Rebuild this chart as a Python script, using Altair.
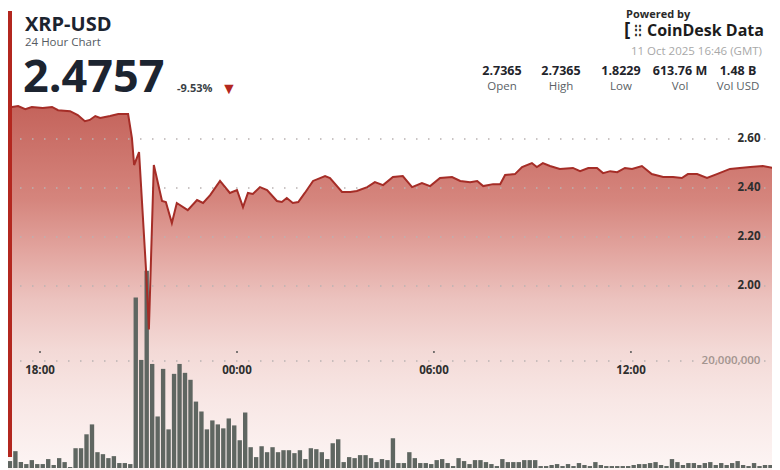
import altair as alt
import pandas as pd

# ---------------- data ----------------
# price line: minutes relative to 18:00 (10 Oct), price in USD
price_min = [-71, -51, -40, -27, -15, 5, 22, 33, 55, 69, 82, 91, 101, 110, 128, 143, 161,
             168, 172, 181, 194, 199, 208, 223, 230, 241, 250, 270, 287, 298, 311, 329,
             347, 360, 371, 380, 389, 402, 415, 433, 442, 451, 462, 472, 484, 499, 521,
             530, 552, 567, 579, 598, 612, 627, 645, 663, 680, 698, 713, 731, 753, 768,
             786, 799, 810, 828, 841, 850, 868, 881, 899, 908, 919, 932, 950, 974, 987,
             1002, 1018, 1029, 1042, 1055, 1069, 1082, 1100, 1118, 1139, 1157, 1173,
             1184, 1201, 1219, 1237, 1261, 1279, 1298, 1321, 1340, 1352, 1366]
price_val = [2.7365, 2.731, 2.735, 2.722, 2.731, 2.727, 2.731, 2.718, 2.714, 2.698, 2.673,
             2.678, 2.694, 2.686, 2.694, 2.702, 2.702, 2.604, 2.494, 2.547, 2.057, 1.8229,
             2.494, 2.347, 2.343, 2.257, 2.339, 2.310, 2.351, 2.339, 2.371, 2.429, 2.380,
             2.392, 2.322, 2.380, 2.376, 2.404, 2.392, 2.347, 2.343, 2.359, 2.339, 2.343,
             2.380, 2.429, 2.449, 2.441, 2.384, 2.384, 2.388, 2.404, 2.424, 2.412, 2.445,
             2.449, 2.404, 2.420, 2.408, 2.441, 2.445, 2.429, 2.424, 2.429, 2.408, 2.416,
             2.416, 2.453, 2.457, 2.486, 2.502, 2.486, 2.502, 2.490, 2.478, 2.482, 2.469,
             2.482, 2.482, 2.461, 2.469, 2.465, 2.482, 2.478, 2.490, 2.457, 2.445, 2.445,
             2.441, 2.457, 2.457, 2.441, 2.457, 2.478, 2.482, 2.486, 2.490, 2.482, 2.4757,
             2.4757]

# volume per 10-minute bar (millions), first bar starts 16:50
vol_first_min = -70
vol_m = [1.67, 1.30, 3.15, 1.11, 0.74, 1.48, 0.74, 0.74, 1.67, 0.56, 1.85, 1.11, 0.19,
         3.70, 3.70, 6.30, 8.15, 2.96, 2.59, 1.85, 2.22, 0.93, 0.93, 0.74, 31.85, 20.19,
         36.85, 19.44, 9.63, 18.52, 7.22, 17.59, 19.44, 17.78, 16.48, 12.41, 10.56, 7.22,
         8.89, 8.15, 7.41, 9.26, 7.96, 5.19, 10.37, 3.89, 2.04, 4.07, 2.96, 3.89, 2.96,
         3.33, 3.33, 2.78, 3.33, 1.67, 3.70, 3.52, 2.96, 1.67, 4.63, 5.37, 1.11, 2.04,
         1.85, 2.41, 2.41, 1.85, 1.11, 1.67, 1.48, 5.56, 0.93, 0.93, 2.96, 1.85, 0.93,
         0.93, 0.74, 1.48, 1.67, 0.93, 0.37, 1.85, 1.30, 0.74, 1.48, 1.48, 1.11, 0.74,
         0.37, 1.67, 1.11, 1.11, 1.11, 1.48, 1.48, 1.48, 0.37, 0.37, 0.56, 0.74, 0.37,
         0.74, 0.37, 0.93, 0.56, 0.37, 1.11, 0.56, 0.37, 0.37, 0.37, 0.37, 0.37, 0.56,
         0.74, 0.74, 0.93, 1.11, 0.56, 0.37, 1.67, 1.11, 0.56, 0.93, 0.93, 0.56, 0.93,
         1.11, 0.56, 0.93, 0.56, 0.93, 1.30, 0.56, 0.37, 0.93, 0.37, 0.56, 0.56, 0.37,
         0.37, 0.56]

price_ticks = [2.00, 2.20, 2.40, 2.60]
vol_ticks = [20000000]
time_ticks = [0, 360, 720, 1080]
time_labels = ["18:00", "00:00", "06:00", "12:00"]

title_text = "XRP-USD"
subtitle_text = "24 Hour Chart"
last_price = "2.4757"
change_text = "-9.53%"
powered_text = "Powered by"
brand_text = "CoinDesk Data"
date_text = "11 Oct 2025 16:46 (GMT)"
stat_values = ["2.7365", "2.7365", "1.8229", "613.76 M", "1.48 B"]
stat_labels = ["Open", "High", "Low", "Vol", "Vol USD"]

# ---------------- frames ----------------
price_df = pd.DataFrame({"m": price_min, "p": price_val})
vol_df = pd.DataFrame({
    "s": [vol_first_min + 10 * i + 1 for i in range(len(vol_m))],
    "e": [vol_first_min + 10 * i + 9 for i in range(len(vol_m))],
    "v": [v * 1e6 for v in vol_m],
})
ptick_df = pd.DataFrame({"v": price_ticks, "t": [f"{v:.2f}" for v in price_ticks]})
vtick_df = pd.DataFrame({"v": vol_ticks, "t": [f"{v:,}" for v in vol_ticks]})
ttick_df = pd.DataFrame({"m": time_ticks, "t": time_labels})

W, H = 764, 462
FONT = "Open Sans"
DARK = "#1c2430"

XS = alt.Scale(domain=[-58.5, 1337.8], nice=False, zero=False)
PY = alt.Scale(domain=[1.249, 3.135], nice=False, zero=False)
VY = alt.Scale(domain=[-0.37e6, 85.93e6], nice=False, zero=False)

# the area's gradient box reaches well below the visible chart, so the
# visible fade is packed into the first ~half of the gradient
grad = alt.Gradient(
    gradient="linear",
    stops=[
        alt.GradientStop(color="#c4635b", offset=0),
        alt.GradientStop(color="#d5857d", offset=0.14),
        alt.GradientStop(color="#e2a49e", offset=0.215),
        alt.GradientStop(color="#ecc3bf", offset=0.29),
        alt.GradientStop(color="#f3d9d6", offset=0.364),
        alt.GradientStop(color="#f8e7e5", offset=0.44),
        alt.GradientStop(color="#fcf3f2", offset=0.53),
        alt.GradientStop(color="#ffffff", offset=1),
    ],
    x1=0, x2=0, y1=0, y2=1,
)

area = alt.Chart(price_df).mark_area(color=grad).encode(
    x=alt.X("m:Q", scale=XS, axis=None),
    y=alt.Y("p:Q", scale=PY, axis=None),
    y2=alt.value(H),
)

pgrid = alt.Chart(ptick_df).mark_rule(
    color="#b9b3b2", strokeWidth=1.5, strokeDash=[1.5, 10.5]
).encode(y=alt.Y("v:Q", scale=PY, axis=None), x=alt.value(0), x2=alt.value(W))

vgrid = alt.Chart(vtick_df).mark_rule(
    color="#b9b3b2", strokeWidth=1.5, strokeDash=[1.5, 10.5]
).encode(y=alt.Y("v:Q", scale=VY, axis=None), x=alt.value(0), x2=alt.value(W))

bars = alt.Chart(vol_df).mark_rect(color="#5f6661").encode(
    x=alt.X("s:Q", scale=XS, axis=None),
    x2="e:Q",
    y=alt.Y("v:Q", scale=VY, axis=None),
    y2=alt.datum(0),
)

line = alt.Chart(price_df).mark_line(color="#a52d27", strokeWidth=2).encode(
    x=alt.X("m:Q", scale=XS, axis=None),
    y=alt.Y("p:Q", scale=PY, axis=None),
)

plabels = alt.Chart(ptick_df).mark_text(
    font=FONT, fontSize=11.5, fontWeight="bold", color="#2e2e2e", align="center", baseline="middle"
).encode(y=alt.Y("v:Q", scale=PY, axis=None), x=alt.value(741), text="t:N")

vlabels = alt.Chart(vtick_df).mark_text(
    font=FONT, fontSize=11.5, fontWeight=600, color="#a3948f", align="center", baseline="middle"
).encode(y=alt.Y("v:Q", scale=VY, axis=None), x=alt.value(723), text="t:N")

tlabels = alt.Chart(ttick_df).mark_text(
    font=FONT, fontSize=11.5, fontWeight="bold", color="#2e2e2e", align="center", baseline="middle"
).encode(x=alt.X("m:Q", scale=XS, axis=None), y=alt.value(363), text="t:N")

tdots = alt.Chart(ttick_df).mark_circle(color="#555555", size=4, opacity=1).encode(
    x=alt.X("m:Q", scale=XS, axis=None), y=alt.value(344)
)

one = pd.DataFrame({"a": [0]})
redbar = alt.Chart(one).mark_rule(color="#b3271f", strokeWidth=6).encode(
    x=alt.value(1), y=alt.value(3), y2=alt.value(449)
)


def label(text, x, y, size, weight="normal", color=DARK, align="left", baseline="middle"):
    return alt.Chart(pd.DataFrame({"t": [text]})).mark_text(
        font=FONT, fontSize=size, fontWeight=weight, color=color, align=align,
        baseline=baseline,
    ).encode(text="t:N", x=alt.value(x), y=alt.value(y))


texts = [
    label(title_text, 17, 17, 20, "bold"),
    label(subtitle_text, 17, 35, 11.5, "normal", "#555b63"),
    label(last_price, 15, 70, 45, "bold"),
    label(change_text, 169, 81, 11, "bold", "#3a3f45"),
    label("▼", 213, 81, 16, "normal", "#b3271f"),
    label(powered_text, 618, 1, 11, "bold", "#2a2a2a", baseline="top"),
    label("[", 616, 22, 19, "bold", "#1c1c1c"),
    label("⋮", 622, 22, 12, "bold", "#1c1c1c"),
    label("⋮", 626, 22, 12, "bold", "#1c1c1c"),
    label(brand_text, 639, 23, 16, "bold", "#1c1c1c"),
    label(date_text, 754, 44, 11.5, "normal", "#a8a8a8", "right"),
]
stat_x = [494, 553, 613, 672, 730]
for sx, sv, sl in zip(stat_x, stat_values, stat_labels):
    texts.append(label(sv, sx, 63, 12.5, "bold", "#1f242b", "center"))
    texts.append(label(sl, sx, 79, 11.5, "normal", "#5a5f66", "center"))

chart = alt.layer(
    area, pgrid, vgrid, bars, line, plabels, vlabels, tlabels, tdots, redbar, *texts
).resolve_scale(y="independent").properties(
    width=W, height=H, padding=0, autosize=alt.AutoSizeParams(type="none"),
    background="white",
).configure_view(stroke=None)

chart.save("out.html", embed_options={"renderer": "svg", "actions": False})
